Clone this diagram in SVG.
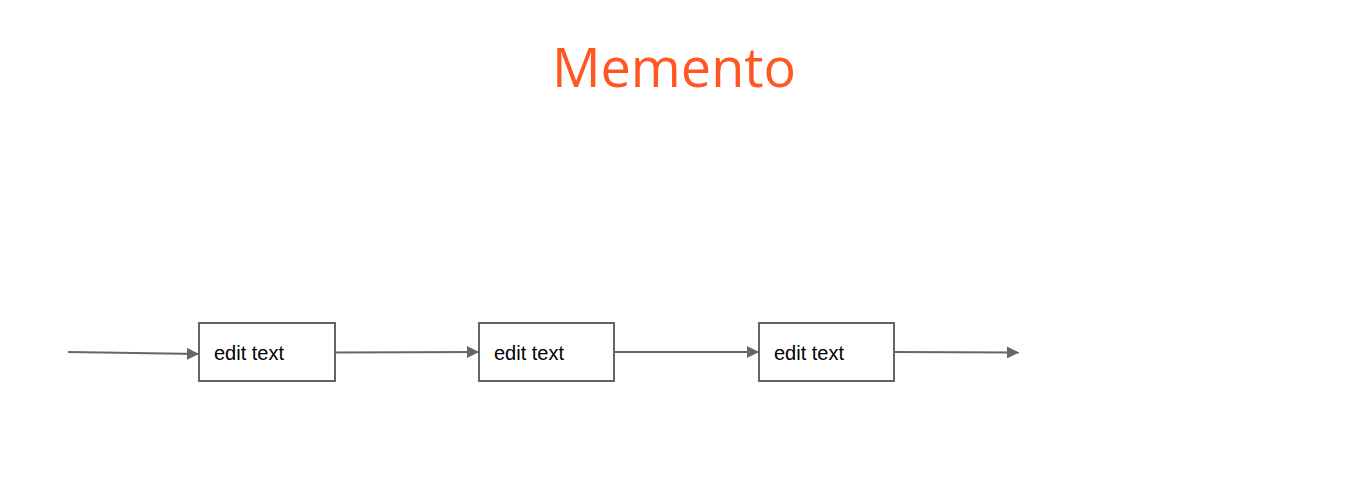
<svg xmlns="http://www.w3.org/2000/svg" width="1354" height="502" viewBox="0 0 1354 502">
<style>
.box{fill:#fff;stroke:#666;stroke-width:2}
.lbl{font-family:"Liberation Sans",Arial,sans-serif;font-size:20px;fill:#000}
.conn{stroke:#666;stroke-width:2;fill:none}
.title{font-family:"Open Sans","Noto Sans",sans-serif;font-size:54px;fill:#FF5722}
</style>
<defs>
<marker id="ah" viewBox="0 0 10 10" refX="10" refY="5" markerWidth="6" markerHeight="6" markerUnits="strokeWidth" orient="auto">
<path d="M0,0 L10,5 L0,10 z" fill="#666"/>
</marker>
</defs>
<rect width="1354" height="502" fill="#fff"/>
<g id="title"><text class="title" x="674" y="87" text-anchor="middle">Memento</text></g>
<g id="connectors">
<line class="conn" x1="68" y1="352" x2="199" y2="354" marker-end="url(#ah)"/>
<line class="conn" x1="335" y1="352.5" x2="479" y2="352" marker-end="url(#ah)"/>
<line class="conn" x1="614" y1="352" x2="759" y2="352" marker-end="url(#ah)"/>
<line class="conn" x1="894" y1="352" x2="1019" y2="352.5" marker-end="url(#ah)"/>
</g>
<g id="node1"><rect class="box" x="199" y="323" width="136" height="58"/><text class="lbl" x="214" y="360">edit text</text></g>
<g id="node2"><rect class="box" x="479" y="323" width="135" height="58"/><text class="lbl" x="494" y="360">edit text</text></g>
<g id="node3"><rect class="box" x="759" y="323" width="135" height="58"/><text class="lbl" x="774" y="360">edit text</text></g>
</svg>
